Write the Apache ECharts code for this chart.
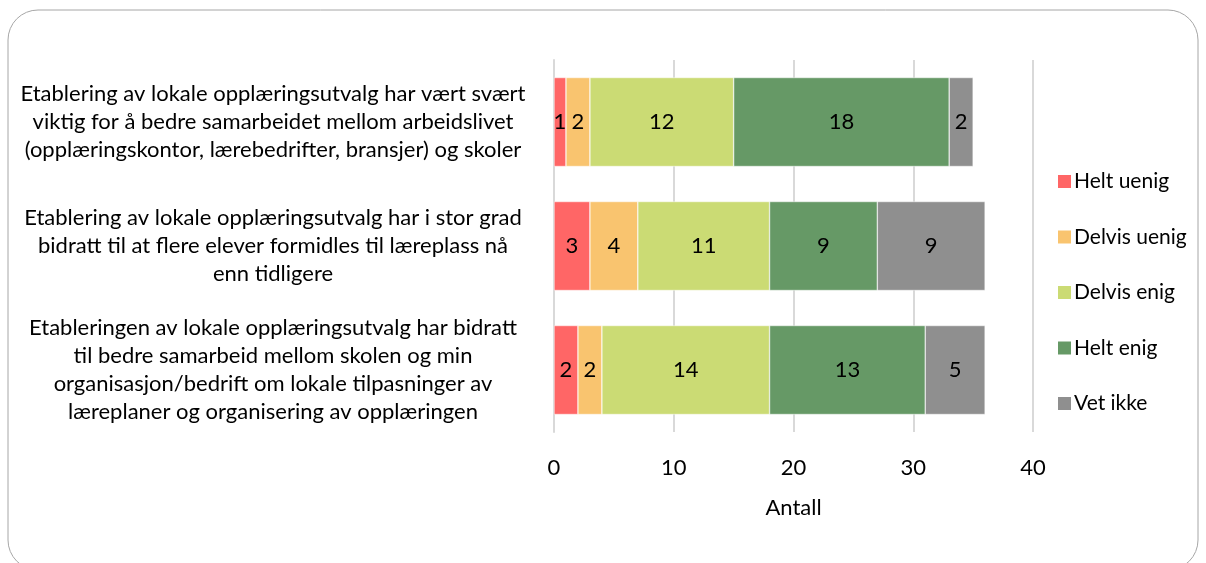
<!DOCTYPE html>
<html>
<head>
    <meta charset="utf-8">
    <title>Lokale opplæringsutvalg</title>
    <script src="https://cdn.jsdelivr.net/npm/echarts@6/dist/echarts.min.js"></script>
</head>
<style>
    html, body {
        margin: 0;
        padding: 0;
        background: #fff;
    }

    #chart {
        width: 1206px;
        height: 563px;
    }
</style>
<body>
<div id="chart"></div>
<script>
    var categories = [
        'Etablering av lokale opplæringsutvalg har vært svært\nviktig for å bedre samarbeidet mellom arbeidslivet\n(opplæringskontor, lærebedrifter, bransjer) og skoler',
        'Etablering av lokale opplæringsutvalg har i stor grad\nbidratt til at flere elever formidles til læreplass nå\nenn tidligere',
        'Etableringen av lokale opplæringsutvalg har bidratt\ntil bedre samarbeid mellom skolen og min\norganisasjon/bedrift om lokale tilpasninger av\nlæreplaner og organisering av opplæringen'
    ];
    var seriesNames = ['Helt uenig', 'Delvis uenig', 'Delvis enig', 'Helt enig', 'Vet ikke'];
    var heltUenig = [1, 3, 2];
    var delvisUenig = [2, 4, 2];
    var delvisEnig = [12, 11, 14];
    var heltEnig = [18, 9, 13];
    var vetIkke = [2, 9, 5];
    var xTicks = [0, 10, 20, 30, 40];
    var colors = ['#ff6666', '#f9c46f', '#cbdb74', '#669966', '#8f8f8f'];

    var values = [heltUenig, delvisUenig, delvisEnig, heltEnig, vetIkke];
    var font = 'Lato, "Open Sans", sans-serif';

    var chart = echarts.init(document.getElementById('chart'));

    var series = seriesNames.map(function (name, i) {
        return {
            name: name,
            type: 'bar',
            stack: 'total',
            barWidth: 89,
            data: values[i],
            itemStyle: {color: colors[i], borderColor: '#ffffff', borderWidth: 0.5},
            label: {
                show: true,
                position: 'inside',
                color: '#000',
                fontSize: 22,
                fontFamily: font
            }
        };
    });

    chart.setOption({
        animation: false,
        color: colors,
        graphic: [{
            type: 'rect',
            shape: {x: 8, y: 10, width: 1190, height: 560, r: 30},
            style: {fill: 'none', stroke: '#a6a6a6', lineWidth: 1}
        }],
        legend: {
            orient: 'vertical',
            left: 1051,
            top: 166,
            itemWidth: 15,
            itemHeight: 15,
            itemGap: 34.5,
            data: seriesNames,
            textStyle: {fontSize: 21, color: '#000', fontFamily: font, padding: [0, 0, 0, -3]},
            icon: 'rect'
        },
        grid: {left: 554, right: 173, top: 60, bottom: 131},
        xAxis: {
            type: 'value',
            min: xTicks[0],
            max: xTicks[xTicks.length - 1],
            interval: 10,
            name: 'Antall',
            nameLocation: 'middle',
            nameGap: 65,
            nameTextStyle: {fontSize: 22, color: '#000', fontFamily: font},
            axisLine: {show: false},
            axisTick: {show: false},
            axisLabel: {fontSize: 22, color: '#000', fontFamily: font, margin: 25},
            splitLine: {lineStyle: {color: '#d9d9d9', width: 2}}
        },
        yAxis: {
            type: 'category',
            inverse: true,
            data: categories,
            axisLine: {show: true, lineStyle: {color: '#d9d9d9', width: 2}},
            axisTick: {show: false},
            axisLabel: {
                align: 'center',
                margin: 281,
                fontSize: 22,
                lineHeight: 28,
                color: '#000',
                fontFamily: font
            }
        },
        series: series
    });

    window.onresize = function () {
        chart.resize();
    };
</script>
</body>
</html>
